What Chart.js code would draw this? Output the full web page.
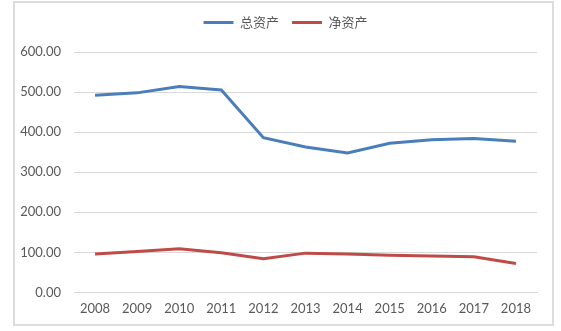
<!DOCTYPE html>
<html>
<head>
<meta charset="utf-8">
<script src="https://cdn.jsdelivr.net/npm/chart.js@4"></script>
<style>
    html, body { margin: 0; padding: 0; background: #fff; }
    .wrap { position: relative; width: 561px; height: 331px; }
    .frame {
        position: absolute; left: 13px; top: 1px; width: 537px; height: 321px;
        border: 2px solid #dcdcdc; pointer-events: none;
    }
</style>
</head>
<body>
<div class="wrap">
    <canvas id="assetChart" width="561" height="331"></canvas>
    <div class="frame"></div>
</div>
<script>
// 年份
const years = ['2008', '2009', '2010', '2011', '2012', '2013', '2014', '2015', '2016', '2017', '2018'];
// 总资产
const totalAssets = [492, 498, 514, 505, 386, 363, 348, 372, 381, 384, 377];
// 净资产
const netAssets = [96, 102, 109, 99, 84, 98, 96, 93, 91, 89, 72];
// y 轴刻度
const yTicks = [0, 100, 200, 300, 400, 500, 600];

const textColor = '#595959';
const gridColor = '#d9d9d9';

// 图例下方多留一点空白，并整体右移与绘图区居中
const legendTweak = {
    id: 'legendTweak',
    afterInit: (chart) => {
        const legend = chart.legend;
        if (!legend) return;
        const fit = legend.fit;
        legend.fit = function () {
            fit.call(this);
            this.height += 13;
        };
    },
    afterLayout: (chart) => {
        if (!chart.legend) return;
        chart.legend.left += 17;
        chart.legend.right += 17;
    }
};

new Chart(document.getElementById('assetChart'), {
    type: 'line',
    data: {
        labels: years,
        datasets: [{
            label: '总资产',
            data: totalAssets,
            borderColor: '#4a7ebb',
            backgroundColor: '#4a7ebb',
            borderWidth: 3,
            pointRadius: 0,
            tension: 0
        }, {
            label: '净资产',
            data: netAssets,
            borderColor: '#be4b48',
            backgroundColor: '#be4b48',
            borderWidth: 3,
            pointRadius: 0,
            tension: 0
        }]
    },
    options: {
        responsive: false,
        animation: false,
        layout: { padding: { left: 0, right: 24, top: 3, bottom: 5 } },
        plugins: {
            legend: {
                position: 'top',
                labels: {
                    usePointStyle: true,
                    pointStyle: 'line',
                    pointStyleWidth: 30,
                    padding: 13,
                    color: textColor,
                    font: { family: '"Noto Sans CJK SC"', size: 13 }
                }
            },
            tooltip: { enabled: false }
        },
        scales: {
            x: {
                offset: true,
                grid: { display: false, drawTicks: false },
                border: { display: true, color: gridColor, width: 1 },
                ticks: {
                    color: textColor,
                    padding: 9,
                    maxRotation: 0,
                    font: { family: 'Lato', size: 13 }
                }
            },
            y: {
                min: 0,
                max: 600,
                afterFit: (scale) => {
                    scale.width = 74;
                    scale.paddingTop = 52;
                },
                afterBuildTicks: (scale) => { scale.ticks = yTicks.map((v) => ({ value: v })); },
                grid: { color: gridColor, drawTicks: false },
                border: { display: false },
                ticks: {
                    color: textColor,
                    padding: 13,
                    font: { family: 'Lato', size: 13 },
                    callback: (v) => Number(v).toFixed(2)
                }
            }
        }
    },
    plugins: [legendTweak]
});
</script>
</body>
</html>
